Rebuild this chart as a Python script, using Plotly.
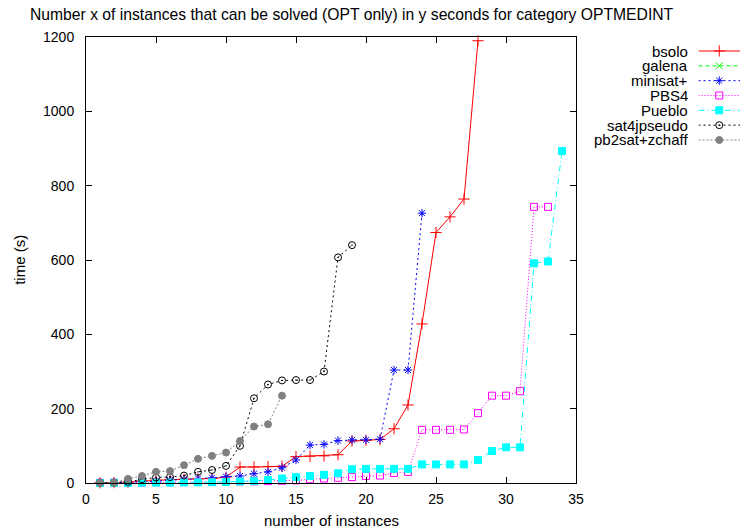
import plotly.graph_objects as go

# Sorted solve times (seconds) per solver; x = number of instances solved
bsolo = [0.5, 1, 2, 5, 8, 9, 10, 11, 12, 16, 43, 43, 44, 45, 71, 72, 73, 76,
         113, 115, 117, 146, 210, 428, 674, 716, 764, 1190]
galena = []
minisat = [1, 1, 2, 3, 5, 8, 10, 12, 14, 17, 19, 25, 30, 41, 62, 102, 104, 114,
           116, 116, 118, 304, 304, 726]
pbs4 = [0.5, 0.6, 1, 1.5, 2, 2, 2.5, 3, 3, 3.5, 4, 4.5, 5, 6, 7, 10, 12, 14,
        16, 19, 20, 27, 30, 143, 143, 143, 144, 188, 235, 235, 247, 743, 743]
pueblo = [0.2, 0.3, 0.5, 0.8, 1, 1.2, 1.5, 1.8, 2, 3, 4, 5, 8, 12, 16, 19, 22,
          26, 37, 38, 38, 38, 38, 50, 50, 50, 50, 62, 86, 96, 96, 591, 596, 893]
sat4j = [0.5, 1, 3, 10, 15, 16, 20, 30, 35, 46, 100, 228, 265, 276, 277, 277,
         300, 607, 640]
pb2sat = [0.3, 0.5, 11, 19, 30, 32, 48, 65, 73, 82, 113, 152, 158, 235]

names = ["bsolo", "galena", "minisat+", "PBS4", "Pueblo", "sat4jpseudo",
         "pb2sat+zchaff"]
values = [bsolo, galena, minisat, pbs4, pueblo, sat4j, pb2sat]

x_ticks = [0, 5, 10, 15, 20, 25, 30, 35]
y_ticks = [0, 200, 400, 600, 800, 1000, 1200]

styles = [
    dict(color="#ff0000", dash="solid", symbol="cross-thin-open", size=8),
    dict(color="#00ff00", dash="4px,3px", symbol="x-thin-open", size=7),
    dict(color="#0000ff", dash="2px,3px", symbol="asterisk-open", size=7),
    dict(color="#ff00ff", dash="1px,2px", symbol="square-open", size=7),
    dict(color="#00ffff", dash="6px,3px,1px,3px", symbol="square", size=7),
    dict(color="#000000", dash="2px,3px", symbol="circle-open-dot", size=7),
    dict(color="#808080", dash="2px,2px", symbol="circle", size=7),
]

W, H = 748, 531
L, R, T, B = 86, 0, 37, 48
plot_right = 582               # pixel where the data frame ends
span = W - L - R
main_frac = (plot_right - L) / span

fig = go.Figure()

for name, vals, st in zip(names, values, styles):
    fig.add_trace(go.Scatter(
        x=list(range(1, len(vals) + 1)), y=vals, name=name,
        mode="lines+markers", cliponaxis=False, showlegend=False,
        line=dict(color=st["color"], dash=st["dash"], width=1),
        marker=dict(symbol=st["symbol"], size=st["size"], color=st["color"],
                    line=dict(color=st["color"], width=1)),
    ))

# Key drawn on its own axis pair: text right-aligned, sample line to its right
key_top, key_step = 51, 14.83
key_text_right = 697
key_line_left = 706
for i, (name, st) in enumerate(zip(names, styles)):
    yrow = key_top + i * key_step
    fig.add_trace(go.Scatter(
        x=[0, 0.5, 1], y=[yrow] * 3, xaxis="x2", yaxis="y2",
        mode="lines+markers", showlegend=False, cliponaxis=False,
        hoverinfo="skip",
        line=dict(color=st["color"], dash=st["dash"], width=1),
        marker=dict(symbol=st["symbol"], size=st["size"], color=st["color"],
                    opacity=[0, 1, 0],
                    line=dict(color=st["color"], width=1)),
    ))
    fig.add_annotation(
        x=(key_text_right - L) / span, xref="paper",
        y=yrow, yref="y2", text=name, showarrow=False,
        xanchor="right", yanchor="middle",
        font=dict(size=15, color="#000000"),
    )

base_font = dict(family="Liberation Sans, Arial, sans-serif", size=15,
                 color="#000000")

fig.update_layout(
    width=W, height=H,
    margin=dict(l=L, r=R, t=T, b=B),
    paper_bgcolor="white", plot_bgcolor="white",
    font=base_font,
    title=dict(
        text="Number x of instances that can be solved (OPT only) in y seconds for category OPTMEDINT",
        x=30 / W, xanchor="left", xref="container",
        y=1 - 15 / H, yanchor="middle", yref="container",
        font=dict(size=15.7, color="#000000"),
    ),
    xaxis=dict(
        domain=[0, main_frac], range=[0, 35], tickvals=x_ticks,
        ticks="inside", ticklen=6, tickcolor="#000000", tickwidth=1,
        showline=True, linecolor="#000000", linewidth=1, mirror="ticks",
        showgrid=False, zeroline=False, tickfont=dict(size=14),
        ticklabelstandoff=3,
    ),
    yaxis=dict(
        range=[0, 1200], tickvals=y_ticks,
        ticks="inside", ticklen=6, tickcolor="#000000", tickwidth=1,
        showline=True, linecolor="#000000", linewidth=1, mirror="ticks",
        showgrid=False, zeroline=False, tickfont=dict(size=14),
        ticklabelstandoff=8,
    ),
    xaxis2=dict(
        domain=[(key_line_left - L) / span, 1], range=[0, 1],
        visible=False, anchor="y2",
    ),
    yaxis2=dict(
        domain=[0, 1], range=[H - B, T], visible=False, anchor="x2",
    ),
)

fig.add_annotation(
    x=(335 - L) / span, xref="paper", y=(H - B - 520) / (H - B - T),
    yref="paper", text="number of instances", showarrow=False,
    xanchor="center", yanchor="middle", font=dict(size=15),
)
fig.add_annotation(
    x=(18 - L) / span, xref="paper", y=(H - B - 260) / (H - B - T),
    yref="paper", text="time (s)", showarrow=False, textangle=-90,
    xanchor="center", yanchor="middle", font=dict(size=15),
)

fig.write_html("out.html")
